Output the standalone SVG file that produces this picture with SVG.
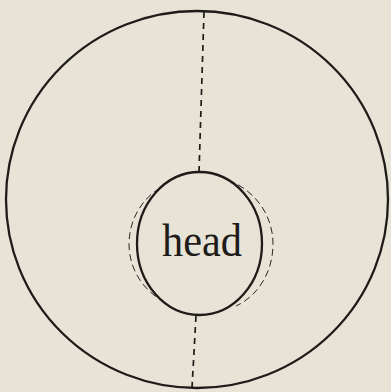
<svg xmlns="http://www.w3.org/2000/svg" width="391" height="392" viewBox="0 0 391 392">
<style>
.solid{fill:none;stroke:#1f1b19;stroke-width:2.3}
.dash{fill:none;stroke:#1f1b19;stroke-width:1.7;stroke-dasharray:6 5}
.thin{fill:none;stroke:#2a2623;stroke-width:1;stroke-dasharray:7 4}
.lbl{font-family:"Liberation Serif","DejaVu Serif",serif;font-size:46px;fill:#1f1b19}
</style>
<rect width="391" height="392" fill="#e7e3d7"/>
<g id="outer"><ellipse class="solid" cx="197" cy="199.5" rx="191" ry="188.5"/></g>
<g id="head">
<path class="thin" d="M160 188 C140 200 129 222 129 244 C129 266 140 286 158 298"/>
<path class="thin" d="M228 180 C254 190 273 214 273 244 C273 272 258 296 236 306"/>
<ellipse class="solid" cx="199.5" cy="243.5" rx="62.5" ry="71.5"/>
<text class="lbl" x="202" y="256" text-anchor="middle" textLength="80" lengthAdjust="spacingAndGlyphs">head</text>
</g>
<g id="connectors">
<line class="dash" x1="204" y1="12" x2="199" y2="172"/>
<line class="dash" x1="196" y1="316" x2="192" y2="388"/>
</g>
</svg>
